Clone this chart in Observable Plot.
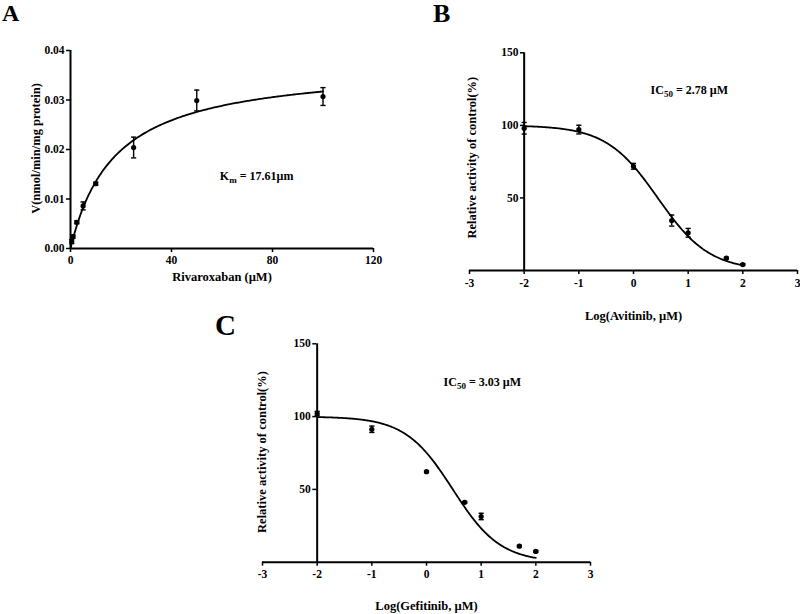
<!DOCTYPE html>
<html>
<head>
<meta charset="utf-8">
<script src="https://cdn.jsdelivr.net/npm/d3@7"></script>
<script src="https://cdn.jsdelivr.net/npm/@observablehq/plot@0.6"></script>
<style>
  body { margin: 0; background: #fff; }
  #fig { position: relative; width: 800px; height: 614px; overflow: hidden;
         font-family: "Liberation Serif", "Times New Roman", serif; font-weight: bold; color: #000; }
  .panel { position: absolute; }
  #letters { position: absolute; left: 0; top: 0; }
</style>
</head>
<body>
<div id="fig"></div>
<script>
// ---- Panel A: rivaroxaban metabolism kinetics (mean ± SD) ----
const rivaConc = [0.5, 1, 2.5, 5, 10, 25, 50, 100];            // µM
const rivaV    = [0.0014, 0.0024, 0.0053, 0.0086, 0.0131, 0.0204, 0.0299, 0.0307];
const rivaSD   = [0.0004, 0.0003, 0.0003, 0.0008, 0.0003, 0.0021, 0.0021, 0.0018];
const rivaKm   = 17.61;     // µM, Michaelis–Menten fit
const rivaVmax = 0.0373;    // nmol/min/mg protein
const rivaXTicks = [0, 40, 80, 120];
const rivaYTicks = [0, 0.01, 0.02, 0.03, 0.04];

// ---- Panels B and C: inhibition curves, log10 concentration (µM) ----
const logConc    = [-2, -1, 0, 0.699, 1, 1.699, 2];
const avitinib   = [98.0, 97.1, 71.8, 34.4, 26.0, 8.5, 4.1];
const avitinibSD = [4.0, 3.0, 2.0, 3.8, 3.0, 0.6, 0.6];
const avitinibIC50 = 2.78, avitinibHill = 0.92;
const gefitinib   = [102.1, 91.3, 62.2, 41.1, 31.4, 11.0, 7.4];
const gefitinibSD = [1.5, 2.2, 0.6, 0.6, 2.2, 0.6, 0.6];
const gefitinibIC50 = 3.03, gefitinibHill = 1.0;
const logXTicks = [-3, -2, -1, 0, 1, 2, 3];
const pctYTicks = [50, 100, 150];

// panel letters
const panelLetters = ["A", "B", "C"];

const FONT = '"Liberation Serif", "Times New Roman", serif';
const fig = document.getElementById("fig");

// horizontal error-bar cap drawn as a symbol
const cap = { draw(ctx, size) { const r = Math.sqrt(size / Math.PI); ctx.moveTo(-r, 0); ctx.lineTo(r, 0); } };

function rows(xs, ys, sds) {
  return xs.map((x, i) => ({ x, y: ys[i], lo: ys[i] - sds[i], hi: ys[i] + sds[i] }));
}

function dataMarks(data, curve) {
  return [
    Plot.line(curve, { x: "x", y: "y", stroke: "#000", strokeWidth: 1.8 }),
    Plot.ruleX(data, { x: "x", y1: "lo", y2: "hi", stroke: "#000", strokeWidth: 1.4 }),
    Plot.dot(data, { x: "x", y: "hi", symbol: cap, r: 2.6, stroke: "#000", strokeWidth: 1.4, fill: "none" }),
    Plot.dot(data, { x: "x", y: "lo", symbol: cap, r: 2.6, stroke: "#000", strokeWidth: 1.4, fill: "none" }),
    Plot.dot(data, { x: "x", y: "y", r: 2.6, fill: "#000", stroke: "none" })
  ];
}

// put the characters after `base` into a subscript
function subscript(svg, prefix, base, sub) {
  d3.select(svg).selectAll("text").filter(function () { return this.textContent.startsWith(prefix); })
    .each(function () {
      const full = this.textContent;
      const rest = full.slice(base.length + sub.length);
      const t = d3.select(this).text("");
      t.append("tspan").text(base);
      t.append("tspan").attr("dy", 3).attr("font-size", "9px").text(sub);
      t.append("tspan").attr("dy", -3).text(rest);
    });
}

function place(svg, left, top) {
  const div = document.createElement("div");
  div.className = "panel";
  div.style.left = left + "px";
  div.style.top = top + "px";
  div.appendChild(svg);
  fig.appendChild(div);
}

const baseStyle = `font-family: ${FONT}; font-size: 11.5px; font-weight: bold; color: #000; background: transparent; overflow: visible;`;
const titleText = { fontSize: 12.5, fontWeight: "bold", fontFamily: FONT, textAnchor: "middle", lineAnchor: "middle" };

// ---------------- Panel A ----------------
{
  const data = rows(rivaConc, rivaV, rivaSD);
  const curve = d3.range(0, 100.01, 0.5).map(s => ({ x: s, y: rivaVmax * s / (rivaKm + s) }));
  const svg = Plot.plot({
    width: 400, height: 300,
    marginLeft: 70, marginRight: 27, marginTop: 50, marginBottom: 52,
    style: baseStyle,
    x: { domain: [0, 120] },
    y: { domain: [0, 0.04] },
    marks: [
      Plot.axisX({ ticks: rivaXTicks, tickSize: 4, tickPadding: 3, strokeWidth: 1.5, label: null, tickFormat: d => String(d), fontFamily: FONT }),
      Plot.axisY({ ticks: rivaYTicks, tickSize: 4, tickPadding: 2, strokeWidth: 1.5, label: null, tickFormat: d3.format(".2f"), fontFamily: FONT }),
      Plot.ruleY([0], { x1: 0, x2: 120, stroke: "#000", strokeWidth: 2 }),
      Plot.ruleX([0], { y1: 0, y2: 0.04, stroke: "#000", strokeWidth: 2 }),
      ...dataMarks(data, curve),
      Plot.text(["Rivaroxaban (µM)"], { x: 60, frameAnchor: "bottom", dy: 28, ...titleText }),
      Plot.text(["V(nmol/min/mg protein)"], { frameAnchor: "left", rotate: -90, dx: -35, dy: -1, ...titleText }),
      Plot.text([`Km = ${rivaKm}µm`], { x: 73.7, y: 0.0147, ...titleText, fontSize: 12 })
    ]
  });
  subscript(svg, "Km", "K", "m");
  place(svg, 0, 0);
}

// ---------------- Panels B and C ----------------
function inhibitionPanel({ values, sds, ic50, hill, xTitle, width, height, xRange, frameLeft, marginTop, marginBottom, titleDy, yTitleDx, yTitleDy, annotY }) {
  const data = rows(logConc, values, sds);
  const logIC = Math.log10(ic50);
  const curve = d3.range(-2, 2.0001, 0.02).map(x => ({ x, y: 100 / (1 + Math.pow(10, (x - logIC) * hill)) }));
  const svg = Plot.plot({
    width, height,
    marginLeft: frameLeft, marginRight: width - xRange[1], marginTop, marginBottom,
    style: baseStyle,
    x: { domain: [-3, 3], range: xRange },
    y: { domain: [0, 150] },
    marks: [
      Plot.axisX({ ticks: logXTicks, tickSize: 4, tickPadding: 4, strokeWidth: 1.5, label: null, tickFormat: d => String(d), fontFamily: FONT }),
      Plot.axisY({ ticks: pctYTicks, tickSize: 4, tickPadding: 2, strokeWidth: 1.5, label: null, tickFormat: d => String(d), fontFamily: FONT }),
      Plot.ruleY([0], { x1: -3, x2: 3, stroke: "#000", strokeWidth: 2 }),
      Plot.ruleX([-2], { y1: 0, y2: 150, stroke: "#000", strokeWidth: 2 }),
      ...dataMarks(data, curve),
      Plot.text([xTitle], { x: 0, frameAnchor: "bottom", dy: titleDy, ...titleText }),
      Plot.text(["Relative activity of control(%)"], { frameAnchor: "left", rotate: -90, dx: yTitleDx, dy: yTitleDy, ...titleText }),
      Plot.text([`IC50 = ${ic50.toFixed(2)} µM`], { x: 1.02, y: annotY, ...titleText, fontSize: 12 })
    ]
  });
  subscript(svg, "IC50", "IC", "50");
  return svg;
}

place(inhibitionPanel({
  values: avitinib, sds: avitinibSD, ic50: avitinibIC50, hill: avitinibHill,
  xTitle: "Log(Avitinib, µM)", width: 400, height: 325,
  xRange: [69, 397], frameLeft: 124, marginTop: 52.3, marginBottom: 55,
  titleDy: 45, yTitleDx: -52.3, yTitleDy: -4, annotY: 124
}), 400, 0);

place(inhibitionPanel({
  values: gefitinib, sds: gefitinibSD, ic50: gefitinibIC50, hill: gefitinibHill,
  xTitle: "Log(Gefitinib, µM)", width: 400, height: 314,
  xRange: [62, 390], frameLeft: 116.3, marginTop: 43.3, marginBottom: 52.3,
  titleDy: 43.3, yTitleDx: -54.6, yTitleDy: -1, annotY: 123.6
}), 200, 300);

// panel letters, placed by baseline
const letterSpots = [
  { x: 2, y: 20.5, size: 24 },
  { x: 433, y: 21.5, size: 26 },
  { x: 215, y: 335, size: 29 }
];
const letters = d3.select(fig).append("svg").attr("id", "letters").attr("width", 800).attr("height", 614);
letters.selectAll("text").data(panelLetters).join("text")
  .attr("x", (d, i) => letterSpots[i].x)
  .attr("y", (d, i) => letterSpots[i].y)
  .attr("font-family", FONT).attr("font-weight", "bold")
  .attr("font-size", (d, i) => letterSpots[i].size)
  .text(d => d);
</script>
</body>
</html>
